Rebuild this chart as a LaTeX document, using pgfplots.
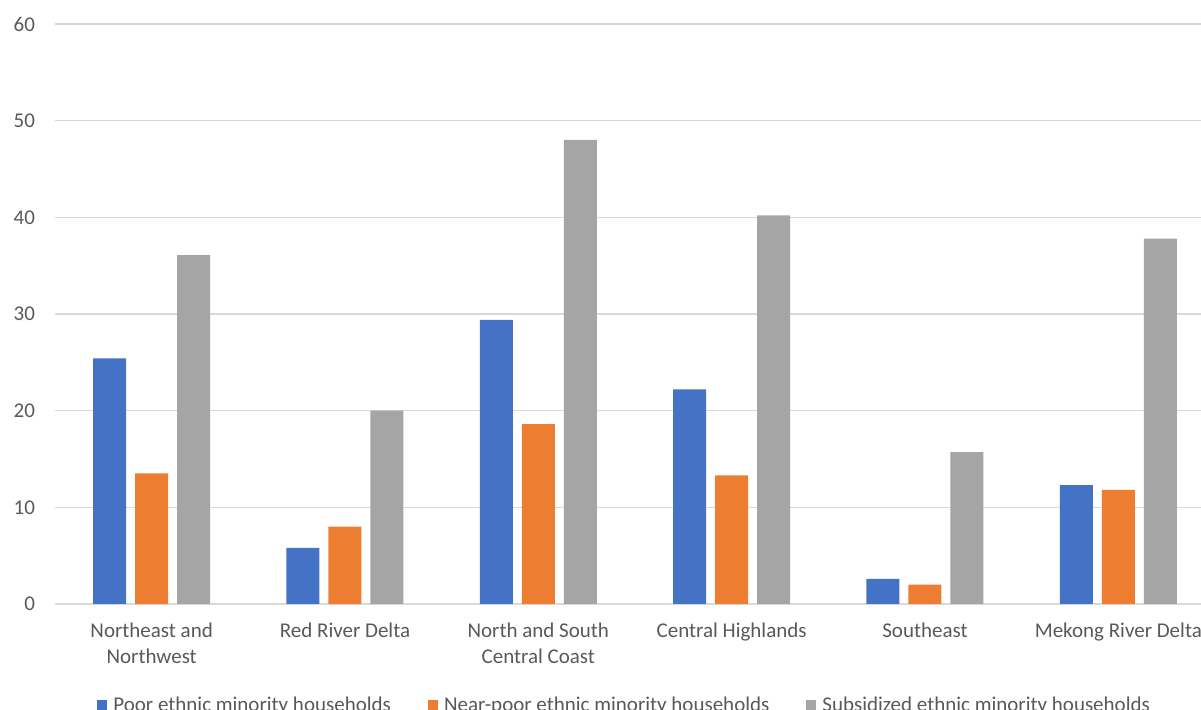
\documentclass[border=0pt]{standalone}
\usepackage{pgfplots}
\pgfplotsset{compat=1.18}
\usepackage{fontspec}
\setmainfont{Carlito}
\definecolor{cblue}{HTML}{4472C4}
\definecolor{corange}{HTML}{ED7D31}
\definecolor{cgray}{HTML}{A5A5A5}
\definecolor{ctext}{HTML}{595959}
\definecolor{cgrid}{HTML}{D9D9D9}
\begin{document}
\begin{tikzpicture}
\path[use as bounding box, clip] (-27.5pt,-53pt) rectangle (573pt,302pt);
\begin{axis}[
  at={(0pt,0pt)}, anchor=south west,
  scale only axis, width=580pt, height=290pt,
  xmin=-0.5, xmax=5.5, ymin=0, ymax=60,
  ytick={0,10,...,60},
  xtick={0,...,5},
  xticklabels={{Northeast and\\Northwest},{Red River Delta},{North and South\\Central Coast},{Central Highlands},{Southeast},{Mekong River Delta}},
  ybar=4.5pt, bar width=16.5pt,
  axis line style={draw=none},
  major tick length=0pt,
  ymajorgrids, grid style={cgrid, line width=0.75pt},
  tick label style={font=\fontsize{10.5}{13}\selectfont, text=ctext},
  /pgf/number format/assume math mode=true,
  xticklabel style={align=center, yshift=-6pt},
  yticklabel style={xshift=-6.5pt},
  legend columns=3,
  legend style={font=\fontsize{10.5}{13}\selectfont, text=ctext, draw=none, fill=none,
    at={(0.0362,-0.175)}, anchor=west, inner sep=0pt,
    /tikz/every even column/.append style={column sep=16.5pt}},
  legend image code/.code={\fill[#1] (0pt,-2.5pt) rectangle (5pt,2.5pt); \path (6pt,0pt);},
]
\addplot[fill=cblue, draw=none] coordinates {(0,25.4) (1,5.8) (2,29.4) (3,22.2) (4,2.6) (5,12.3)};
\addplot[fill=corange, draw=none] coordinates {(0,13.5) (1,8.0) (2,18.6) (3,13.3) (4,2.0) (5,11.8)};
\addplot[fill=cgray, draw=none] coordinates {(0,36.1) (1,20.0) (2,48.0) (3,40.2) (4,15.7) (5,37.8)};
\legend{Poor ethnic minority households, Near-poor ethnic minority households, Subsidized ethnic minority households}
\end{axis}
\end{tikzpicture}
\end{document}
